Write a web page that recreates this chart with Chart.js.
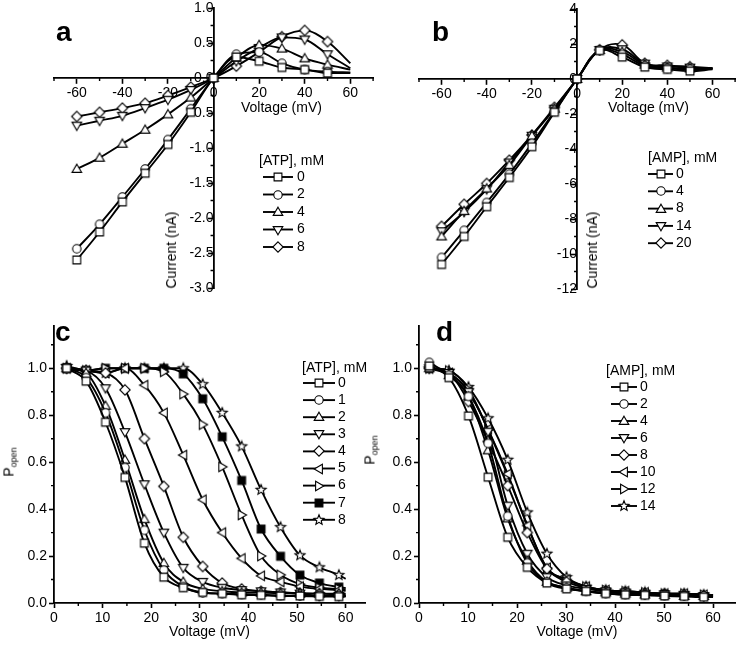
<!DOCTYPE html>
<html><head><meta charset="utf-8">
<script src="https://cdn.jsdelivr.net/npm/chart.js@4.4.0/dist/chart.umd.min.js"></script>
<style>
html,body{margin:0;padding:0;background:#fff}
#wrap{position:relative;width:742px;height:645px;background:#fff;overflow:hidden;font-family:"Liberation Sans",Arial,sans-serif;color:#000}
canvas{position:absolute}
.lbl{position:absolute;font-size:14px;line-height:14px;white-space:nowrap}
.let{position:absolute;font-size:28px;line-height:28px;font-weight:bold}
.rot{position:absolute;font-size:14px;line-height:14px;white-space:nowrap;transform:translate(-50%,-50%) rotate(-90deg)}
.rot sub{font-size:9px;vertical-align:-3px}
</style></head>
<body><div id="wrap">
<canvas id="ca" width="380" height="300" style="left:0;top:0"></canvas>
<canvas id="cb" width="362" height="300" style="left:380px;top:0"></canvas>
<canvas id="cc" width="372" height="345" style="left:0;top:300px"></canvas>
<canvas id="cd" width="370" height="345" style="left:372px;top:300px"></canvas>
<div class="let" style="left:56px;top:18px">a</div>
<div class="let" style="left:432px;top:18px">b</div>
<div class="let" style="left:55px;top:318px">c</div>
<div class="let" style="left:436px;top:318px">d</div>
<div class="lbl" style="left:241px;top:100px">Voltage (mV)</div>
<div class="lbl" style="left:608px;top:100px">Voltage (mV)</div>
<div class="rot" style="left:171px;top:250px">Current (nA)</div>
<div class="rot" style="left:592px;top:250px">Current (nA)</div>
<div class="rot" style="left:11px;top:462px">P<sub>open</sub></div>
<div class="rot" style="left:372px;top:450px">P<sub>open</sub></div>
</div>
<script>
// ---------------- DATA ----------------
const voltageIV = [-60, -50, -40, -30, -20, -10, 0, 10, 20, 30, 40, 50, 60];
const atpLabelsA = ['0', '2', '4', '6', '8'];
const currentATP0 = [-2.60, -2.20, -1.77, -1.36, -0.95, -0.49, 0, 0.30, 0.24, 0.15, 0.12, 0.07, 0.07];
const currentATP2 = [-2.44, -2.09, -1.70, -1.30, -0.88, -0.44, 0, 0.34, 0.37, 0.21, 0.12, 0.09, 0.08];
const currentATP4 = [-1.30, -1.14, -0.94, -0.74, -0.52, -0.28, 0, 0.29, 0.47, 0.42, 0.28, 0.19, 0.12];
const currentATP6 = [-0.68, -0.61, -0.54, -0.43, -0.31, -0.17, 0, 0.24, 0.43, 0.58, 0.55, 0.34, 0.14];
const currentATP8 = [-0.55, -0.49, -0.43, -0.36, -0.25, -0.13, 0, 0.17, 0.37, 0.59, 0.68, 0.52, 0.21];

const ampLabelsB = ['0', '4', '8', '14', '20'];
const currentAMP0 = [-10.6, -9.0, -7.3, -5.63, -3.87, -1.90, 0, 1.62, 1.25, 0.68, 0.55, 0.45, 0.55];
const currentAMP4 = [-10.2, -8.65, -7.06, -5.44, -3.68, -1.85, 0, 1.64, 1.40, 0.75, 0.60, 0.55, 0.58];
const currentAMP8 = [-9.0, -7.55, -6.26, -4.92, -3.25, -1.70, 0, 1.65, 1.55, 0.82, 0.65, 0.60, 0.60];
const currentAMP14 = [-8.7, -7.6, -6.3, -4.77, -3.24, -1.70, 0, 1.66, 1.70, 0.88, 0.72, 0.65, 0.62];
const currentAMP20 = [-8.42, -7.16, -5.97, -4.64, -3.20, -1.62, 0, 1.67, 1.95, 0.90, 0.78, 0.70, 0.62];

const voltageC = [2.6, 6.6, 10.6, 14.6, 18.6, 22.6, 26.6, 30.6, 34.6, 38.6, 42.6, 46.6, 50.6, 54.6, 58.6, 60];
const atpLabelsC = ['0', '1', '2', '3', '4', '5', '6', '7', '8'];
const popenATP0 = [1.00, 0.945, 0.77, 0.535, 0.255, 0.11, 0.065, 0.045, 0.04, 0.035, 0.033, 0.03, 0.03, 0.028, 0.027, 0.027];
const popenATP1 = [1.00, 0.96, 0.81, 0.577, 0.31, 0.14, 0.07, 0.043, 0.04, 0.037, 0.035, 0.032, 0.03, 0.03, 0.03, 0.03];
const popenATP2 = [1.00, 0.98, 0.84, 0.61, 0.357, 0.17, 0.09, 0.06, 0.05, 0.045, 0.044, 0.042, 0.04, 0.04, 0.04, 0.04];
const popenATP3 = [1.00, 0.99, 0.915, 0.728, 0.506, 0.30, 0.15, 0.09, 0.065, 0.055, 0.05, 0.045, 0.04, 0.03, 0.03, 0.03];
const popenATP4 = [1.00, 0.99, 0.98, 0.908, 0.70, 0.497, 0.28, 0.156, 0.085, 0.06, 0.05, 0.045, 0.042, 0.04, 0.036, 0.035];
const popenATP5 = [1.00, 0.99, 0.98, 1.00, 0.928, 0.81, 0.63, 0.44, 0.30, 0.19, 0.116, 0.09, 0.07, 0.06, 0.055, 0.052];
const popenATP6 = [1.00, 0.99, 1.00, 1.00, 1.00, 0.985, 0.89, 0.76, 0.58, 0.375, 0.20, 0.12, 0.08, 0.065, 0.06, 0.058];
const popenATP7 = [1.00, 0.99, 1.00, 1.00, 1.00, 1.00, 0.976, 0.87, 0.708, 0.522, 0.315, 0.199, 0.119, 0.085, 0.068, 0.064];
const popenATP8 = [1.01, 0.99, 0.98, 1.00, 1.00, 1.00, 1.00, 0.932, 0.81, 0.667, 0.482, 0.323, 0.203, 0.152, 0.119, 0.103];

const voltageD = [2.1, 6.1, 10.1, 14.1, 18.1, 22.1, 26.1, 30.1, 34.1, 38.1, 42.1, 46.1, 50.1, 54.1, 58.1, 60];
const ampLabelsD = ['0', '2', '4', '6', '8', '10', '12', '14'];
const popenAMP0 = [1.01, 0.96, 0.797, 0.536, 0.28, 0.152, 0.085, 0.06, 0.05, 0.04, 0.035, 0.033, 0.03, 0.028, 0.025, 0.025];
const popenAMP2 = [1.025, 0.97, 0.88, 0.68, 0.37, 0.17, 0.09, 0.065, 0.05, 0.04, 0.036, 0.034, 0.032, 0.03, 0.03, 0.028];
const popenAMP4 = [1.00, 0.97, 0.88, 0.65, 0.36, 0.18, 0.09, 0.065, 0.05, 0.045, 0.04, 0.036, 0.034, 0.03, 0.03, 0.028];
const popenAMP6 = [1.00, 0.98, 0.90, 0.73, 0.415, 0.21, 0.11, 0.075, 0.06, 0.05, 0.045, 0.04, 0.038, 0.035, 0.03, 0.03];
const popenAMP8 = [1.00, 0.98, 0.858, 0.688, 0.50, 0.30, 0.146, 0.09, 0.065, 0.05, 0.045, 0.04, 0.038, 0.035, 0.03, 0.03];
const popenAMP10 = [1.00, 0.98, 0.90, 0.74, 0.55, 0.33, 0.15, 0.10, 0.07, 0.055, 0.05, 0.045, 0.04, 0.04, 0.035, 0.033];
const popenAMP12 = [1.00, 0.99, 0.91, 0.737, 0.543, 0.332, 0.149, 0.10, 0.07, 0.055, 0.05, 0.045, 0.04, 0.04, 0.035, 0.033];
const popenAMP14 = [1.00, 0.99, 0.92, 0.787, 0.61, 0.386, 0.21, 0.11, 0.07, 0.055, 0.05, 0.045, 0.04, 0.04, 0.035, 0.033];

// tick labels
const xTicksIV = [-60, -40, -20, 0, 20, 40, 60];
const xMinorIV = [-70, -50, -30, -10, 10, 30, 50, 70];
const yTicksA = [-3.0, -2.5, -2.0, -1.5, -1.0, -0.5, 0.0, 0.5, 1.0];
const yMinorA = [-2.75, -2.25, -1.75, -1.25, -0.75, -0.25, 0.25, 0.75];
const yTicksB = [-12, -10, -8, -6, -4, -2, 0, 2, 4];
const yMinorB = [-11, -9, -7, -5, -3, -1, 1, 3];
const xTicksP = [0, 10, 20, 30, 40, 50, 60];
const xMinorP = [5, 15, 25, 35, 45, 55];
const yTicksP = [0.0, 0.2, 0.4, 0.6, 0.8, 1.0];
const yMinorP = [0.1, 0.3, 0.5, 0.7, 0.9, 1.1];

// ---------------- STYLE ----------------
const FONT = '"Liberation Sans", Arial, sans-serif';
Chart.defaults.font.family = FONT;
Chart.defaults.font.size = 14;
Chart.defaults.color = '#000';

function marker(kind, fill) {
  const c = document.createElement('canvas');
  c.width = 14; c.height = 14;
  const g = c.getContext('2d');
  g.translate(7, 7);
  g.beginPath();
  const t = 4.8, b = 3.4;
  switch (kind) {
    case 'square': g.rect(-3.9, -3.9, 7.8, 7.8); break;
    case 'circle': g.arc(0, 0, 4.2, 0, Math.PI * 2); break;
    case 'up': g.moveTo(0, -t); g.lineTo(t, b); g.lineTo(-t, b); g.closePath(); break;
    case 'down': g.moveTo(0, t); g.lineTo(t, -b); g.lineTo(-t, -b); g.closePath(); break;
    case 'left': g.moveTo(-t, 0); g.lineTo(b, -t); g.lineTo(b, t); g.closePath(); break;
    case 'right': g.moveTo(t, 0); g.lineTo(-b, -t); g.lineTo(-b, t); g.closePath(); break;
    case 'diamond': g.moveTo(0, -5.2); g.lineTo(5.2, 0); g.lineTo(0, 5.2); g.lineTo(-5.2, 0); g.closePath(); break;
    case 'star':
      for (let i = 0; i < 10; i++) {
        const r = i % 2 ? 2.3 : 5.3;
        const a = -Math.PI / 2 + i * Math.PI / 5;
        const px = r * Math.cos(a), py = r * Math.sin(a);
        if (i) g.lineTo(px, py); else g.moveTo(px, py);
      }
      g.closePath(); break;
  }
  g.fillStyle = fill; g.fill();
  g.lineWidth = 1.1; g.strokeStyle = '#000'; g.stroke();
  return c;
}
const M = {
  square: marker('square', '#fff'), circle: marker('circle', '#fff'),
  up: marker('up', '#fff'), down: marker('down', '#fff'),
  left: marker('left', '#fff'), right: marker('right', '#fff'),
  diamond: marker('diamond', '#fff'), star: marker('star', '#fff'),
  fsquare: marker('square', '#000')
};

function ds(label, xs, ys, style, extra) {
  return Object.assign({
    label: label,
    data: xs.map((x, i) => ({x: x, y: ys[i]})),
    borderColor: '#000', borderWidth: 1.9, backgroundColor: '#fff',
    pointStyle: style,
    pointRadius: ctx => (ctx.raw && ctx.raw.x === 60) ? 0 : 5,
    fill: false
  }, extra || {});
}

function zeroPad(s) { s.paddingTop = 0; s.paddingBottom = 0; s.paddingLeft = 0; s.paddingRight = 0; }

function axis(min, max, ticks, fmt, pos, extra) {
  return Object.assign({
    type: 'linear', min: min, max: max, position: pos,
    afterBuildTicks: s => { s.ticks = ticks.map(v => ({value: v})); },
    afterFit: zeroPad,
    grid: {drawOnChartArea: false, drawTicks: true, tickLength: 5, tickWidth: 1.6, tickColor: '#000'},
    border: {display: true, color: '#000', width: 1.8},
    ticks: {autoSkip: false, maxRotation: 0, padding: 2, color: '#000', font: {size: 14}, callback: fmt}
  }, extra || {});
}

const minorTicks = {
  id: 'minorTicks',
  afterDraw(chart, args, o) {
    if (!o || !o.x) return;
    const ctx = chart.ctx, xs = chart.scales.x, ys = chart.scales.y;
    const ay = o.centered ? ys.getPixelForValue(0) : chart.chartArea.bottom;
    const ax = o.centered ? xs.getPixelForValue(0) : chart.chartArea.left;
    ctx.save(); ctx.strokeStyle = '#000'; ctx.lineWidth = 1.4; ctx.beginPath();
    o.x.forEach(v => { const p = xs.getPixelForValue(v); ctx.moveTo(p, ay); ctx.lineTo(p, ay + 3); });
    o.y.forEach(v => { const p = ys.getPixelForValue(v); ctx.moveTo(ax, p); ctx.lineTo(ax - 3, p); });
    ctx.stroke(); ctx.restore();
  }
};

const lineLegend = {
  id: 'lineLegend',
  afterDraw(chart, args, o) {
    if (!o || !o.title) return;
    const ctx = chart.ctx;
    ctx.save();
    ctx.font = '14px ' + FONT; ctx.fillStyle = '#000'; ctx.textBaseline = 'middle'; ctx.textAlign = 'left';
    ctx.fillText(o.title, o.tx, o.ty);
    chart.data.datasets.forEach((d, i) => {
      const y = o.y0 + i * o.dy;
      ctx.strokeStyle = '#000'; ctx.lineWidth = 1.9;
      ctx.beginPath(); ctx.moveTo(o.x0, y); ctx.lineTo(o.x1, y); ctx.stroke();
      const img = d.pointStyle;
      ctx.drawImage(img, Math.round((o.x0 + o.x1) / 2) - 7, Math.round(y) - 7);
      ctx.fillText(d.label, o.lx, y);
    });
    ctx.restore();
  }
};

const common = {
  responsive: false, animation: false, events: [], devicePixelRatio: 1
};

// ---------- Panel a ----------
new Chart(document.getElementById('ca'), {
  type: 'line',
  data: {datasets: [
    ds(atpLabelsA[0], voltageIV, currentATP0, M.square),
    ds(atpLabelsA[1], voltageIV, currentATP2, M.circle),
    ds(atpLabelsA[2], voltageIV, currentATP4, M.up),
    ds(atpLabelsA[3], voltageIV, currentATP6, M.down),
    ds(atpLabelsA[4], voltageIV, currentATP8, M.diamond)
  ].map(d => Object.assign(d, {cubicInterpolationMode: 'monotone'}))},
  options: Object.assign({}, common, {
    layout: {padding: {left: 54, top: 8, right: 4, bottom: 12}},
    scales: {
      x: axis(-70, 70, xTicksIV, v => String(v), {y: 0}),
      y: axis(-3, 1, yTicksA, v => v.toFixed(1), {x: 0})
    },
    plugins: {legend: {display: false}, tooltip: {enabled: false},
      minorTicks: {centered: true, x: xMinorIV, y: yMinorA},
      lineLegend: {title: '[ATP], mM', tx: 259, ty: 161, y0: 177, dy: 17.5, x0: 263, x1: 293, lx: 297}}
  }),
  plugins: [minorTicks, lineLegend]
});

// ---------- Panel b ----------
new Chart(document.getElementById('cb'), {
  type: 'line',
  data: {datasets: [
    ds(ampLabelsB[0], voltageIV, currentAMP0, M.square),
    ds(ampLabelsB[1], voltageIV, currentAMP4, M.circle),
    ds(ampLabelsB[2], voltageIV, currentAMP8, M.up),
    ds(ampLabelsB[3], voltageIV, currentAMP14, M.down),
    ds(ampLabelsB[4], voltageIV, currentAMP20, M.diamond)
  ].map(d => Object.assign(d, {tension: 0.4}))},
  options: Object.assign({}, common, {
    layout: {padding: {left: 39, top: 9, right: 2, bottom: 11}},
    scales: {
      x: axis(-70, 70, xTicksIV, v => String(v), {y: 0}),
      y: axis(-12, 4, yTicksB, v => String(v), {x: 0})
    },
    plugins: {legend: {display: false}, tooltip: {enabled: false},
      minorTicks: {centered: true, x: xMinorIV, y: yMinorB},
      lineLegend: {title: '[AMP], mM', tx: 268, ty: 158, y0: 174, dy: 17.3, x0: 268, x1: 293, lx: 296}}
  }),
  plugins: [minorTicks, lineLegend]
});

// ---------- Panel c ----------
function bottomX(max, h) {
  return axis(0, max, xTicksP, v => String(v), 'bottom', {
    afterFit: s => { zeroPad(s); s.height = h; },
    title: {display: true, text: 'Voltage (mV)', color: '#000', font: {size: 14}, padding: {top: 2, bottom: 4}}
  });
}
function leftY(w) {
  return axis(0, 1.18, yTicksP, v => v.toFixed(1), 'left', {
    afterFit: s => { zeroPad(s); s.width = w; }
  });
}
new Chart(document.getElementById('cc'), {
  type: 'line',
  data: {datasets: [
    ds(atpLabelsC[0], voltageC, popenATP0, M.square),
    ds(atpLabelsC[1], voltageC, popenATP1, M.circle),
    ds(atpLabelsC[2], voltageC, popenATP2, M.up),
    ds(atpLabelsC[3], voltageC, popenATP3, M.down),
    ds(atpLabelsC[4], voltageC, popenATP4, M.diamond),
    ds(atpLabelsC[5], voltageC, popenATP5, M.left),
    ds(atpLabelsC[6], voltageC, popenATP6, M.right),
    ds(atpLabelsC[7], voltageC, popenATP7, M.fsquare),
    ds(atpLabelsC[8], voltageC, popenATP8, M.star)
  ].map(d => Object.assign(d, {cubicInterpolationMode: 'monotone'}))},
  options: Object.assign({}, common, {
    layout: {padding: {left: 0, top: 26, right: 3, bottom: 0}},
    scales: {x: bottomX(64, 42), y: leftY(54)},
    plugins: {legend: {display: false}, tooltip: {enabled: false},
      minorTicks: {centered: false, x: xMinorP, y: yMinorP},
      lineLegend: {title: '[ATP], mM', tx: 302, ty: 68, y0: 83, dy: 17.1, x0: 303, x1: 335, lx: 338}}
  }),
  plugins: [minorTicks, lineLegend]
});

// ---------- Panel d ----------
new Chart(document.getElementById('cd'), {
  type: 'line',
  data: {datasets: [
    ds(ampLabelsD[0], voltageD, popenAMP0, M.square),
    ds(ampLabelsD[1], voltageD, popenAMP2, M.circle),
    ds(ampLabelsD[2], voltageD, popenAMP4, M.up),
    ds(ampLabelsD[3], voltageD, popenAMP6, M.down),
    ds(ampLabelsD[4], voltageD, popenAMP8, M.diamond),
    ds(ampLabelsD[5], voltageD, popenAMP10, M.left),
    ds(ampLabelsD[6], voltageD, popenAMP12, M.right),
    ds(ampLabelsD[7], voltageD, popenAMP14, M.star)
  ].map(d => Object.assign(d, {cubicInterpolationMode: 'monotone'}))},
  options: Object.assign({}, common, {
    layout: {padding: {left: 0, top: 26, right: 3, bottom: 0}},
    scales: {x: bottomX(64.5, 42), y: leftY(47)},
    plugins: {legend: {display: false}, tooltip: {enabled: false},
      minorTicks: {centered: false, x: xMinorP, y: yMinorP},
      lineLegend: {title: '[AMP], mM', tx: 234, ty: 71, y0: 87, dy: 17, x0: 239, x1: 265, lx: 268}}
  }),
  plugins: [minorTicks, lineLegend]
});
</script>
</body></html>
